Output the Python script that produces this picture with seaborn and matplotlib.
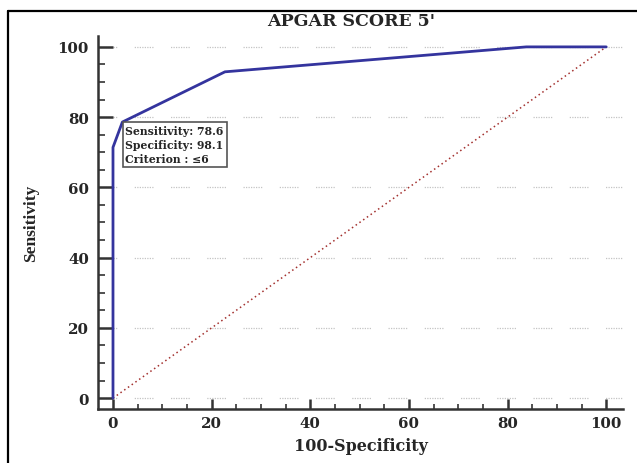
import numpy as np
import pandas as pd
import seaborn as sns
import matplotlib.pyplot as plt
from matplotlib.lines import Line2D
from matplotlib.ticker import MultipleLocator

sns.set_theme(style="white")
plt.rcParams["font.family"] = ["DejaVu Serif", "Liberation Serif"]
plt.rcParams["font.weight"] = "bold"

# ROC points (100-Specificity, Sensitivity)
fpr = [0.0, 0.0, 1.9, 22.7, 83.8, 100.0]
tpr = [0.0, 71.4, 78.6, 92.9, 100.0, 100.0]
ref_line = [0, 100]
ticks = [0, 20, 40, 60, 80, 100]
box_text = "Sensitivity: 78.6\nSpecificity: 98.1\nCriterion : \u22646"
best = (1.9, 78.6)

df = pd.DataFrame(dict(fpr=fpr, tpr=tpr))

fig = plt.figure(figsize=(6.37, 4.64), dpi=100)
ax = fig.add_axes([98 / 637, 1 - 410 / 464, 525 / 637, 373 / 464])
ax.set_facecolor("white")

# grid lines, broken light gray dots
for t in ticks:
    ax.axhline(t, color="#c4c4c4", lw=0.9, linestyle=(0, (1, 1) * 7 + (1, 14)), zorder=0)

# chance diagonal
ax.plot(ref_line, ref_line, color="#a3302e", lw=1.1, linestyle=(0, (1, 2)), zorder=2)

# ROC curve
sns.lineplot(data=df, x="fpr", y="tpr", sort=False, estimator=None,
             color="#34349e", lw=2.0, ax=ax, zorder=3)

ax.annotate(box_text, xy=best, xytext=(2.2, -2.2), textcoords="offset points",
            ha="left", va="top", fontsize=7.8, fontweight="bold", linespacing=1.35,
            bbox=dict(boxstyle="square,pad=0.25", fc="white", ec="#555555", lw=1.2),
            zorder=4)

ax.set_xlim(-3.04, 103.4)
ax.set_ylim(-3.1, 103.1)
ax.set_xticks(ticks)
ax.set_yticks(ticks)
ax.xaxis.set_minor_locator(MultipleLocator(5))
ax.yaxis.set_minor_locator(MultipleLocator(5))

for s in ["top", "right"]:
    ax.spines[s].set_visible(False)
for s in ["left", "bottom"]:
    ax.spines[s].set_color("#333333")
    ax.spines[s].set_linewidth(1.8)

ax.tick_params(axis="y", which="major", direction="in", length=10.5, width=1.8,
               color="#333333", pad=6.5, labelsize=10.8, left=True)
ax.tick_params(axis="y", which="minor", direction="in", length=5, width=1.2,
               color="#333333", left=True)
ax.tick_params(axis="x", which="major", direction="in", length=7, width=1.8,
               color="#333333", pad=5, labelsize=10.8, bottom=True)
ax.tick_params(axis="x", which="minor", direction="in", length=3.5, width=1.2,
               color="#333333", bottom=True)
for lab in ax.get_xticklabels() + ax.get_yticklabels():
    lab.set_fontweight("bold")

ax.set_xlabel("100-Specificity", fontsize=11.5, fontweight="bold", labelpad=5)
ax.set_ylabel("Sensitivity", fontsize=12.5, fontweight="bold", labelpad=13,
              family=["Liberation Serif", "DejaVu Serif"])
fig.text(351 / 637, 1 - 21 / 464, "APGAR SCORE 5'", fontsize=12.5, fontweight="bold",
         ha="center", va="center")

# frame lines at top and left of the picture
fig.add_artist(Line2D([8 / 637, 8 / 637], [0, 1 - 12 / 464], transform=fig.transFigure,
                      color="black", lw=1.6))
fig.add_artist(Line2D([8 / 637, 1], [1 - 12 / 464, 1 - 12 / 464], transform=fig.transFigure,
                      color="black", lw=1.6))

fig.savefig("out.png", dpi=100)
plt.close()
